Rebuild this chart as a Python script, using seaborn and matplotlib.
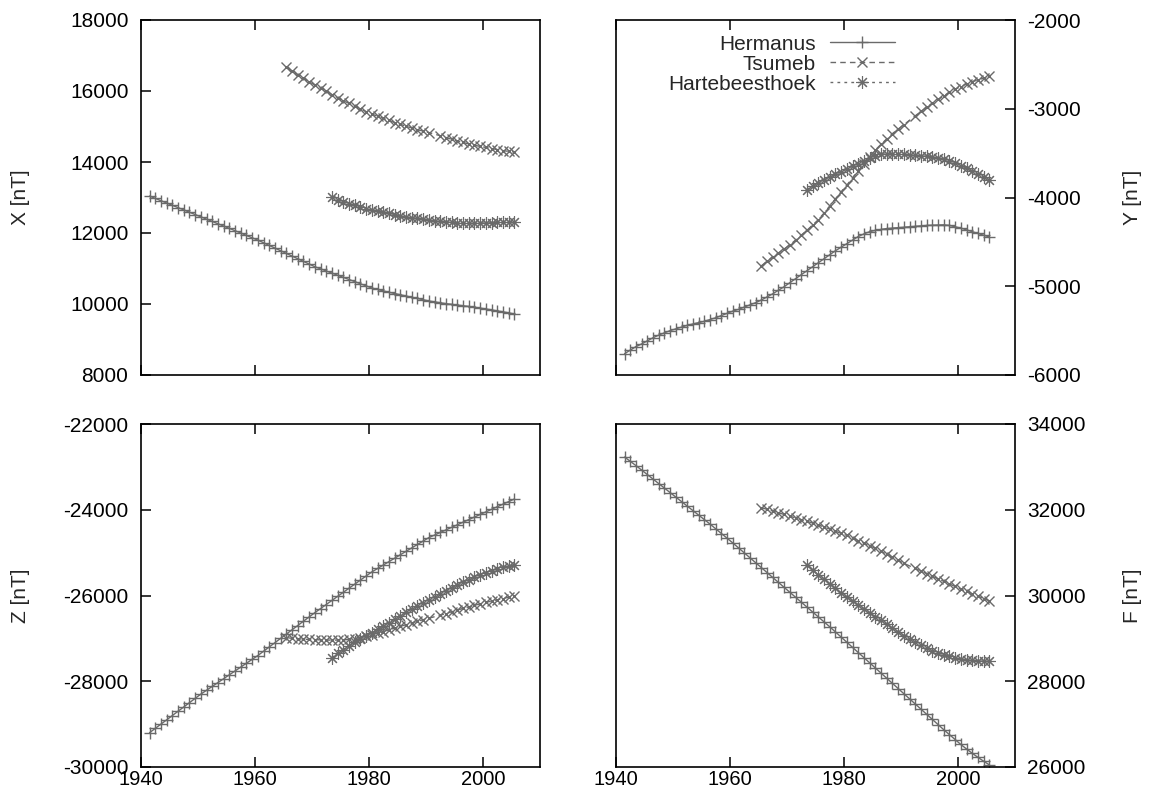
import numpy as np
import pandas as pd
import seaborn as sns
import matplotlib
matplotlib.use("Agg")
import matplotlib.pyplot as plt

# annual means, plotted at mid-year
years_her = list(range(1941, 2006))
years_tsu = [y for y in range(1965, 2006) if y != 1991]
years_hbk = list(range(1973, 2006))

x_her = [13040, 12975, 12910, 12845, 12780, 12715, 12650, 12585, 12520, 12455,
         12390, 12325, 12260, 12195, 12130, 12065, 12000, 11930, 11865, 11800,
         11725, 11650, 11575, 11500, 11425, 11350, 11275, 11200, 11125, 11050,
         10990, 10930, 10870, 10810, 10750, 10690, 10630, 10570, 10510, 10450,
         10410, 10370, 10330, 10295, 10260, 10225, 10190, 10155, 10120, 10085,
         10060, 10035, 10010, 9990, 9970, 9950, 9930, 9910, 9885, 9860,
         9835, 9805, 9780, 9750, 9720]
x_tsu = [16670, 16560, 16460, 16360, 16260, 16170, 16080, 15990, 15900, 15810,
         15730, 15650, 15570, 15490, 15420, 15350, 15290, 15230, 15170, 15110,
         15060, 15010, 14960, 14910, 14870, 14830, 14740, 14690, 14640, 14590,
         14550, 14510, 14470, 14440, 14410, 14380, 14350, 14320, 14300, 14280]
x_hbk = [13010, 12940, 12880, 12830, 12780, 12730, 12690, 12650, 12610, 12580,
         12550, 12520, 12490, 12460, 12430, 12410, 12390, 12370, 12350, 12330,
         12320, 12300, 12290, 12280, 12275, 12275, 12280, 12285, 12290, 12300,
         12305, 12315, 12320]

y_her = [-5760, -5720, -5680, -5650, -5615, -5580, -5550, -5525, -5500, -5480,
         -5460, -5440, -5425, -5410, -5395, -5375, -5355, -5330, -5305, -5280,
         -5260, -5235, -5210, -5185, -5155, -5120, -5085, -5045, -5005, -4960,
         -4915, -4870, -4825, -4780, -4735, -4690, -4645, -4600, -4560, -4520,
         -4480, -4440, -4410, -4385, -4370, -4360, -4350, -4345, -4340, -4335,
         -4330, -4325, -4320, -4315, -4312, -4310, -4308, -4315, -4330, -4345,
         -4365, -4385, -4405, -4425, -4445]
y_tsu = [-4770, -4720, -4670, -4625, -4580, -4535, -4480, -4425, -4370, -4310,
         -4250, -4175, -4095, -4015, -3935, -3860, -3780, -3700, -3620, -3540,
         -3465, -3400, -3340, -3280, -3230, -3180, -3080, -3030, -2985, -2940,
         -2895, -2855, -2815, -2780, -2750, -2720, -2695, -2675, -2655, -2635]
y_hbk = [-3910, -3870, -3835, -3800, -3770, -3740, -3710, -3680, -3650, -3620,
         -3590, -3560, -3530, -3515, -3505, -3505, -3510, -3515, -3520, -3525,
         -3530, -3535, -3540, -3550, -3565, -3585, -3610, -3640, -3670, -3705,
         -3740, -3770, -3800]

z_her = [-29200, -29100, -29000, -28900, -28800, -28700, -28600, -28500, -28400, -28300,
         -28210, -28120, -28030, -27940, -27850, -27760, -27670, -27580, -27490, -27400,
         -27300, -27200, -27100, -27000, -26900, -26800, -26700, -26600, -26500, -26400,
         -26305, -26210, -26115, -26020, -25925, -25830, -25735, -25640, -25545, -25450,
         -25370, -25290, -25210, -25130, -25050, -24970, -24890, -24810, -24730, -24650,
         -24590, -24530, -24470, -24410, -24350, -24290, -24230, -24170, -24110, -24050,
         -23990, -23930, -23870, -23810, -23750]
z_tsu = [-26980, -27000, -27010, -27020, -27025, -27030, -27035, -27040, -27040, -27040,
         -27035, -27025, -27005, -26980, -26950, -26915, -26880, -26840, -26800, -26760,
         -26720, -26680, -26640, -26600, -26565, -26530, -26460, -26420, -26380, -26340,
         -26300, -26265, -26230, -26195, -26160, -26130, -26100, -26070, -26040, -26010]
z_hbk = [-27450, -27350, -27260, -27170, -27090, -27010, -26940, -26870, -26790, -26710,
         -26630, -26550, -26470, -26390, -26315, -26240, -26170, -26100, -26030, -25960,
         -25890, -25820, -25755, -25690, -25630, -25570, -25515, -25465, -25420, -25380,
         -25345, -25315, -25290]

f_her = [33230, 33130, 33030, 32925, 32820, 32715, 32610, 32505, 32400, 32295,
         32190, 32085, 31980, 31875, 31770, 31665, 31555, 31445, 31335, 31225,
         31110, 30995, 30880, 30765, 30650, 30535, 30420, 30305, 30190, 30075,
         29960, 29845, 29730, 29615, 29500, 29385, 29270, 29150, 29030, 28910,
         28790, 28670, 28550, 28430, 28310, 28190, 28070, 27950, 27830, 27710,
         27590, 27470, 27350, 27230, 27110, 26990, 26870, 26755, 26640, 26525,
         26420, 26320, 26225, 26135, 26050]
f_tsu = [32050, 32010, 31970, 31930, 31890, 31850, 31810, 31770, 31730, 31690,
         31645, 31600, 31550, 31500, 31450, 31400, 31340, 31280, 31220, 31160,
         31100, 31030, 30960, 30890, 30820, 30750, 30630, 30570, 30510, 30450,
         30390, 30330, 30270, 30210, 30150, 30095, 30040, 29985, 29930, 29875]
f_hbk = [30700, 30590, 30480, 30375, 30270, 30165, 30060, 29960, 29870, 29780,
         29690, 29600, 29510, 29420, 29330, 29240, 29150, 29065, 28985, 28910,
         28840, 28775, 28715, 28665, 28620, 28580, 28545, 28520, 28500, 28485,
         28475, 28470, 28470]

stations = ["Hermanus", "Tsumeb", "Hartebeesthoek"]
station_years = {"Hermanus": years_her, "Tsumeb": years_tsu, "Hartebeesthoek": years_hbk}
components = {
    "X": {"Hermanus": x_her, "Tsumeb": x_tsu, "Hartebeesthoek": x_hbk},
    "Y": {"Hermanus": y_her, "Tsumeb": y_tsu, "Hartebeesthoek": y_hbk},
    "Z": {"Hermanus": z_her, "Tsumeb": z_tsu, "Hartebeesthoek": z_hbk},
    "F": {"Hermanus": f_her, "Tsumeb": f_tsu, "Hartebeesthoek": f_hbk},
}
ylims = {"X": (8000, 18000), "Y": (-6000, -2000), "Z": (-30000, -22000), "F": (26000, 34000)}
ysteps = {"X": 2000, "Y": 1000, "Z": 2000, "F": 2000}

styles = {
    "Hermanus": dict(linestyle="-", marker="+", markersize=8, markeredgewidth=1.0),
    "Tsumeb": dict(linestyle=(0, (4, 3)), marker="x", markersize=7.5, markeredgewidth=1.0),
    "Hartebeesthoek": dict(linestyle=(0, (2, 3)), marker=(8, 2, 0), markersize=9,
                           markeredgewidth=0.8),
}

sns.set_style("white")
plt.rcParams["font.family"] = ["Liberation Sans", "DejaVu Sans"]
plt.rcParams["axes.unicode_minus"] = False

fig = plt.figure(figsize=(11.49, 7.92), dpi=100)
W, H = 1149, 792
boxes = {
    "X": [141 / W, 1 - 375 / H, 399 / W, 355 / H],
    "Y": [616 / W, 1 - 375 / H, 399 / W, 355 / H],
    "Z": [141 / W, 1 - 767 / H, 399 / W, 343 / H],
    "F": [616 / W, 1 - 767 / H, 399 / W, 343 / H],
}

grey = "#6a6a6a"
fs = 15
for comp, box in boxes.items():
    ax = fig.add_axes(box)
    for st in stations:
        df = pd.DataFrame({"year": np.array(station_years[st]) + 0.5,
                           "val": components[comp][st]})
        sns.lineplot(data=df, x="year", y="val", ax=ax, color=grey, lw=1.0,
                     markeredgecolor=grey, label=st, legend=False, **styles[st])
    ax.set_xlim(1940, 2010)
    lo, hi = ylims[comp]
    ax.set_ylim(lo, hi)
    ax.set_xticks(range(1940, 2010, 20))
    ax.set_yticks(range(lo, hi + 1, ysteps[comp]))
    right = comp in ("Y", "F")
    bottom = comp in ("Z", "F")
    ax.tick_params(axis="both", direction="in", length=7, width=1.1,
                   labelsize=fs, colors="black")
    ax.tick_params(axis="x", top=True, bottom=True, labelbottom=bottom, pad=2.5,
                   labelsize=14.5)
    ax.tick_params(axis="y", left=not right, right=right,
                   labelleft=not right, labelright=right, pad=9)
    for sp in ax.spines.values():
        sp.set_color("black")
        sp.set_linewidth(1.2)
    ax.set_xlabel("")
    ax.set_ylabel(f"{comp} [nT]", fontsize=fs)
    if right:
        ax.yaxis.set_label_position("right")
        ax.yaxis.set_label_coords(1.27, 0.5)
    else:
        ax.yaxis.set_label_coords(-0.278, 0.5)
    if comp == "Y":
        leg = ax.legend(loc="upper right", bbox_to_anchor=(0.735, 1.0),
                        markerfirst=False, frameon=False, fontsize=fs,
                        handlelength=3.1, handletextpad=0.7,
                        labelspacing=0.05, borderpad=0.2)

fig.savefig("out.png", dpi=100)
